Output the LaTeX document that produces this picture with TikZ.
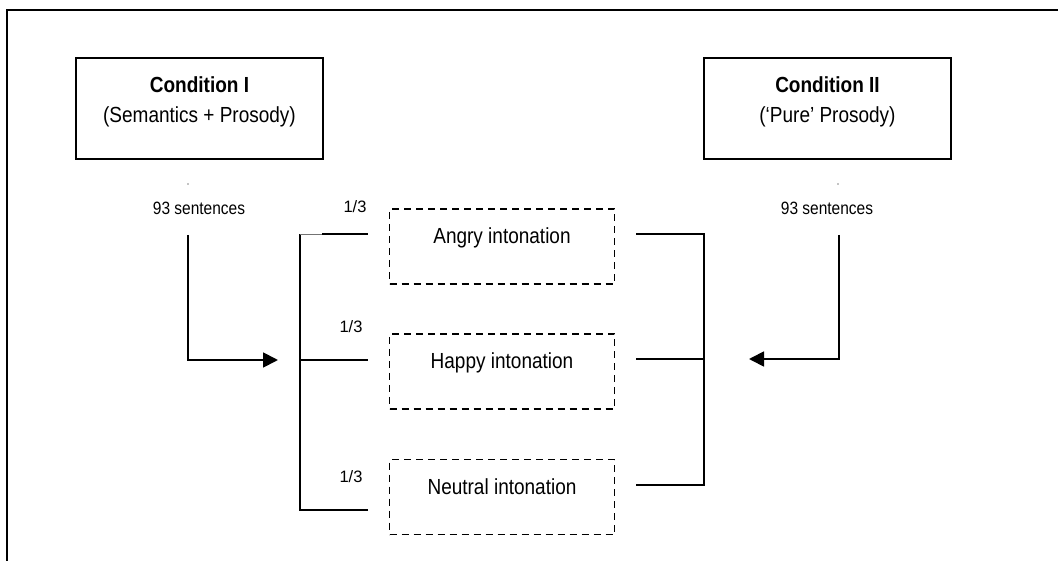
\documentclass[tikz,border=0pt]{standalone}
\usepackage{fontspec}
\usepackage{graphicx}
\setmainfont{Liberation Sans}
\usetikzlibrary{arrows.meta}
\newcommand{\tallt}[1]{\scalebox{1}[1.15]{#1}}
\begin{document}
\begin{tikzpicture}[x=1pt,y=-1pt,
  frameline/.style={line width=2pt},
  condbox/.style={draw,line width=1.8pt,minimum width=247pt,minimum height=101pt,inner sep=0pt},
  condtext/.style={align=center,font=\fontsize{19}{30}\selectfont,inner sep=0pt},
  intbox/.style={draw,line width=1.6pt,dash pattern=on 7pt off 5pt,minimum width=225pt,minimum height=75pt,inner sep=0pt},
  inttext/.style={font=\fontsize{19}{23}\selectfont,inner sep=0pt},
  sentlabel/.style={font=\fontsize{15.5}{18}\selectfont,inner sep=0pt},
  fraclabel/.style={font=\fontsize{16.5}{18}\selectfont,inner sep=0pt},
  conn/.style={line width=1.8pt},
  arr/.style={conn,-{Triangle[length=15pt,width=15pt]}}
]
\useasboundingbox (0,0) rectangle (1058,561);
% outer frame
\draw[frameline] (7,561) -- (7,10) -- (1058,10);

% condition boxes
\node[condbox] (c1) at (199.5,108.5) {};
\node[condtext] (c1t) at (199.5,102) {\tallt{\textbf{Condition I}}\\\tallt{(Semantics + Prosody)}};
\node[condbox] (c2) at (827.5,108.5) {};
\node[condtext] (c2t) at (827.5,102) {\tallt{\textbf{Condition II}}\\\tallt{(‘Pure’ Prosody)}};

% tiny dots
\fill (188,184) circle (0.6pt);
\fill (838,184) circle (0.6pt);

% sentence labels
\node[sentlabel] (s1) at (199,208) {\tallt{93 sentences}};
\node[sentlabel] (s2) at (827,208) {\tallt{93 sentences}};

% intonation boxes
\node[intbox] (ang) at (502,246.5) {};
\node[inttext] (angt) at (502,238) {\tallt{Angry intonation}};
\node[intbox] (hap) at (502,371.5) {};
\node[inttext] (hapt) at (502,363) {\tallt{Happy intonation}};
\node[intbox] (neu) at (502,497) {};
\node[inttext] (neut) at (502,487) {\tallt{Neutral intonation}};

% fraction labels
\node[fraclabel] (f1) at (355,207) {1/3};
\node[fraclabel] (f2) at (351,327) {1/3};
\node[fraclabel] (f3) at (351,477) {1/3};

% coordinates
\coordinate (a1s) at (188,235);
\coordinate (a1e) at (278,360);
\coordinate (a2s) at (839,235);
\coordinate (a2e) at (749,359);
\coordinate (lt) at (300,234);
\coordinate (ltg) at (322,234);
\coordinate (lte) at (368,234);
\coordinate (lm) at (300,360);
\coordinate (lme) at (368,360);
\coordinate (lb) at (300,510);
\coordinate (lbe) at (368,510);
\coordinate (rt) at (704,234);
\coordinate (rts) at (636,234);
\coordinate (rm) at (704,359);
\coordinate (rms) at (636,359);
\coordinate (rb) at (704,485);
\coordinate (rbs) at (636,485);

% arrows
\draw[arr] (a1s) |- (a1e);
\draw[arr] (a2s) |- (a2e);

% left bracket
\draw[conn] (lbe) -- (lb) -- (lt);
\draw[line width=0.9pt,black!55] (lt) -- (ltg);
\draw[conn] (ltg) -- (lte);
\draw[conn] (lm) -- (lme);

% right bracket
\draw[conn] (rts) -- (rt) -- (rb) -- (rbs);
\draw[conn] (rms) -- (rm);
\end{tikzpicture}
\end{document}
